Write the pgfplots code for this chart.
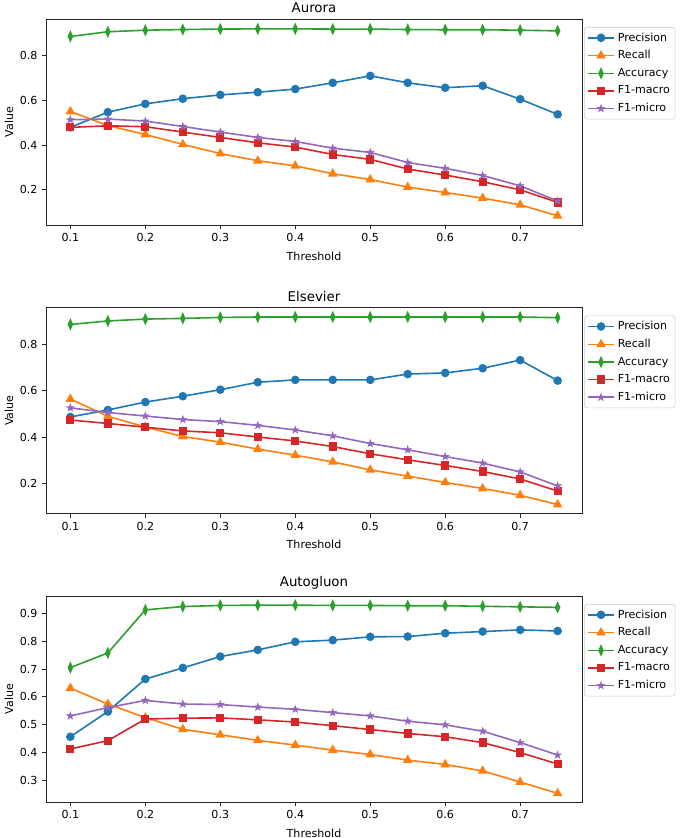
\documentclass[border=0pt]{standalone}
\usepackage{fontspec}
\setmainfont{DejaVu Sans}
\usepackage{pgfplots}
\usepackage{pgfplotstable}
\pgfplotsset{compat=1.18}
\definecolor{c0}{HTML}{1F77B4}
\definecolor{c1}{HTML}{FF7F0E}
\definecolor{c2}{HTML}{2CA02C}
\definecolor{c3}{HTML}{D62728}
\definecolor{c4}{HTML}{9467BD}

\pgfdeclareplotmark{fstar}{%
  \pgfpathmoveto{\pgfpointpolar{90}{\pgfplotmarksize}}%
  \pgfpathlineto{\pgfpointpolar{126}{0.382\pgfplotmarksize}}%
  \pgfpathlineto{\pgfpointpolar{162}{\pgfplotmarksize}}%
  \pgfpathlineto{\pgfpointpolar{198}{0.382\pgfplotmarksize}}%
  \pgfpathlineto{\pgfpointpolar{234}{\pgfplotmarksize}}%
  \pgfpathlineto{\pgfpointpolar{270}{0.382\pgfplotmarksize}}%
  \pgfpathlineto{\pgfpointpolar{306}{\pgfplotmarksize}}%
  \pgfpathlineto{\pgfpointpolar{342}{0.382\pgfplotmarksize}}%
  \pgfpathlineto{\pgfpointpolar{18}{\pgfplotmarksize}}%
  \pgfpathlineto{\pgfpointpolar{54}{0.382\pgfplotmarksize}}%
  \pgfpathclose
  \pgfusepathqfillstroke
}

\pgfplotstableread{
t P R A M m
0.10 0.479 0.550 0.885 0.479 0.513
0.15 0.547 0.487 0.906 0.486 0.516
0.20 0.584 0.447 0.913 0.482 0.507
0.25 0.607 0.403 0.916 0.458 0.483
0.30 0.624 0.362 0.918 0.434 0.458
0.35 0.636 0.330 0.919 0.410 0.434
0.40 0.650 0.307 0.919 0.391 0.416
0.45 0.678 0.272 0.918 0.358 0.386
0.50 0.709 0.246 0.918 0.336 0.367
0.55 0.678 0.212 0.916 0.293 0.322
0.60 0.656 0.188 0.915 0.266 0.296
0.65 0.665 0.163 0.915 0.236 0.264
0.70 0.605 0.133 0.913 0.200 0.218
0.75 0.537 0.084 0.910 0.144 0.150
}\aurora

\pgfplotstableread{
t P R A M m
0.10 0.487 0.564 0.884 0.474 0.526
0.15 0.517 0.490 0.899 0.459 0.506
0.20 0.551 0.444 0.907 0.443 0.491
0.25 0.576 0.403 0.910 0.427 0.476
0.30 0.604 0.379 0.914 0.419 0.467
0.35 0.636 0.349 0.916 0.401 0.451
0.40 0.646 0.323 0.916 0.384 0.431
0.45 0.646 0.294 0.916 0.360 0.406
0.50 0.646 0.260 0.916 0.329 0.373
0.55 0.671 0.233 0.916 0.303 0.346
0.60 0.676 0.206 0.916 0.279 0.317
0.65 0.696 0.180 0.916 0.253 0.289
0.70 0.731 0.151 0.916 0.221 0.251
0.75 0.643 0.111 0.913 0.169 0.191
}\elsevier

\pgfplotstableread{
t P R A M m
0.10 0.456 0.631 0.705 0.412 0.531
0.15 0.547 0.574 0.758 0.442 0.561
0.20 0.664 0.525 0.913 0.520 0.587
0.25 0.704 0.483 0.925 0.523 0.574
0.30 0.745 0.463 0.929 0.524 0.572
0.35 0.769 0.443 0.930 0.517 0.563
0.40 0.798 0.426 0.930 0.509 0.555
0.45 0.804 0.408 0.929 0.496 0.543
0.50 0.816 0.392 0.929 0.482 0.531
0.55 0.817 0.372 0.928 0.468 0.512
0.60 0.829 0.356 0.928 0.456 0.499
0.65 0.835 0.333 0.926 0.435 0.476
0.70 0.841 0.293 0.924 0.399 0.435
0.75 0.837 0.252 0.922 0.358 0.390
}\autogluon

\pgfplotsset{
  panel/.style={
    scale only axis, width=402pt, height=154.5pt,
    xmin=0.0675, xmax=0.7825,
    xtick={0.1,0.2,0.3,0.4,0.5,0.6,0.7},
    tick pos=left, tick align=outside, major tick length=2.9pt,
    tick style={black!85, line width=0.66pt},
    axis line style={line width=0.66pt, black!85},
    ticklabel style={font=\fontsize{8.3}{10}\selectfont},
    /pgf/number format/assume math mode=true,
    /pgf/number format/fixed, /pgf/number format/precision=1,
    xlabel={Threshold}, ylabel={Value},
    label style={font=\fontsize{8.3}{10}\selectfont},
    xlabel style={yshift=-0.5pt},
    ylabel style={yshift=-2pt},
    title style={font=\fontsize{10}{12}\selectfont, yshift=-4.8pt},
    legend style={at={(1,1)}, anchor=north west, xshift=1.5pt, yshift=-6pt,
      font=\fontsize{8.3}{10}\selectfont, draw=black!20, rounded corners=2pt,
      inner sep=2pt, row sep=1.6pt},
    legend cell align=left,
    legend image code/.code={\draw[mark repeat=2,mark phase=2] plot coordinates {(0cm,0cm) (0.35cm,0cm) (0.7cm,0cm)};},
    every axis plot/.append style={line width=1.2pt},
  },
  sP/.style={color=c0, mark=*, mark size=2.6pt, mark options={solid}},
  sR/.style={color=c1, mark=triangle*, mark size=3pt, mark options={solid}},
  sA/.style={color=c2, mark=diamond*, mark size=3.2pt, mark options={solid, xscale=0.6}},
  sM/.style={color=c3, mark=square*, mark size=2.5pt, mark options={solid}},
  sm/.style={color=c4, mark=fstar, mark size=2.6pt, mark options={solid, line width=0.6pt}},
}

\begin{document}
\begin{tikzpicture}
\useasboundingbox (-34.5pt,14.25pt) rectangle (479.25pt,-614.25pt);
\begin{axis}[panel, at={(0pt,0pt)}, anchor=north west, title={Aurora},
  ymin=0.043, ymax=0.963, ytick={0.2,0.4,0.6,0.8}]
\addplot[sP] table[x=t,y=P]{\aurora}; \addlegendentry{Precision}
\addplot[sR] table[x=t,y=R]{\aurora}; \addlegendentry{Recall}
\addplot[sA] table[x=t,y=A]{\aurora}; \addlegendentry{Accuracy}
\addplot[sM] table[x=t,y=M]{\aurora}; \addlegendentry{F1-macro}
\addplot[sm] table[x=t,y=m]{\aurora}; \addlegendentry{F1-micro}
\end{axis}
\begin{axis}[panel, at={(0pt,-216.5pt)}, anchor=north west, title={Elsevier},
  ymin=0.072, ymax=0.956, ytick={0.2,0.4,0.6,0.8}]
\addplot[sP] table[x=t,y=P]{\elsevier}; \addlegendentry{Precision}
\addplot[sR] table[x=t,y=R]{\elsevier}; \addlegendentry{Recall}
\addplot[sA] table[x=t,y=A]{\elsevier}; \addlegendentry{Accuracy}
\addplot[sM] table[x=t,y=M]{\elsevier}; \addlegendentry{F1-macro}
\addplot[sm] table[x=t,y=m]{\elsevier}; \addlegendentry{F1-micro}
\end{axis}
\begin{axis}[panel, at={(0pt,-432.75pt)}, anchor=north west, title={Autogluon},
  ymin=0.221, ymax=0.963, ytick={0.3,0.4,0.5,0.6,0.7,0.8,0.9}]
\addplot[sP] table[x=t,y=P]{\autogluon}; \addlegendentry{Precision}
\addplot[sR] table[x=t,y=R]{\autogluon}; \addlegendentry{Recall}
\addplot[sA] table[x=t,y=A]{\autogluon}; \addlegendentry{Accuracy}
\addplot[sM] table[x=t,y=M]{\autogluon}; \addlegendentry{F1-macro}
\addplot[sm] table[x=t,y=m]{\autogluon}; \addlegendentry{F1-micro}
\end{axis}
\end{tikzpicture}
\end{document}
